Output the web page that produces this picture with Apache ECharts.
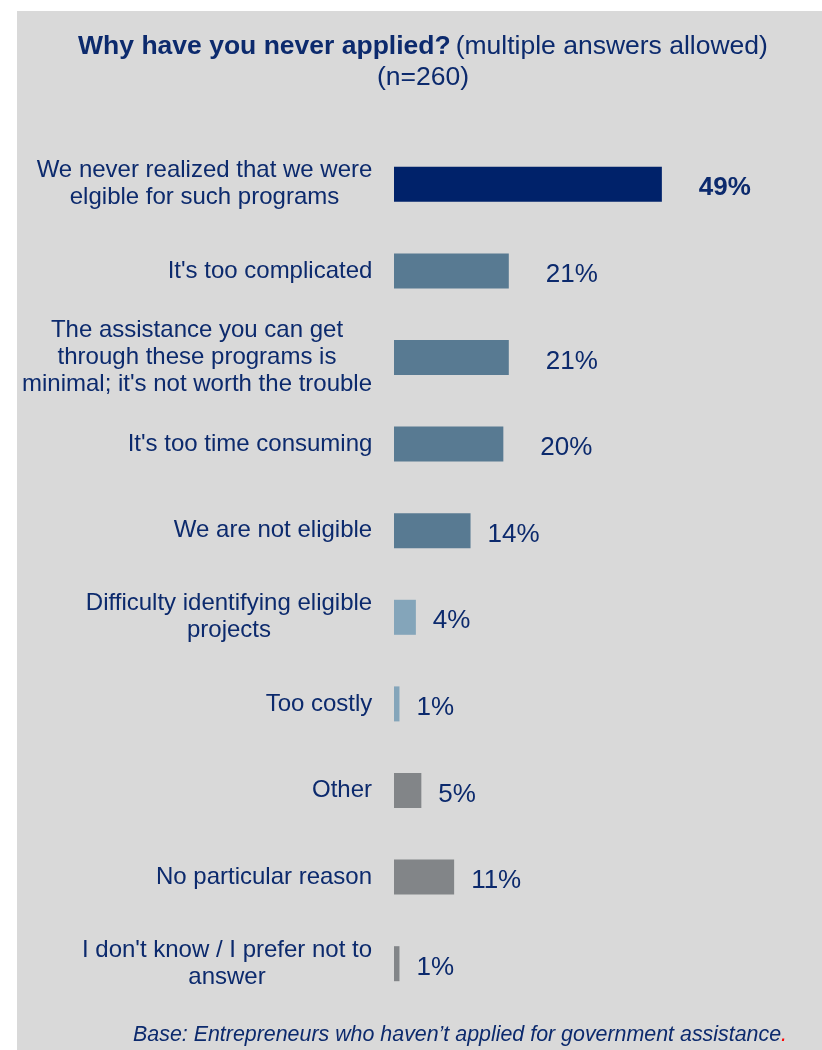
<!DOCTYPE html>
<html>
<head>
<meta charset="utf-8">
<script src="https://cdn.jsdelivr.net/npm/echarts@6/dist/echarts.min.js"></script>
<style>
  html, body { margin: 0; padding: 0; background: #ffffff; }
  #panel { position: absolute; left: 17px; top: 11px; width: 805px; height: 1039px; background: #d9d9d9; }
  #chart { position: absolute; left: 0; top: 0; width: 822px; height: 1050px; }
</style>
</head>
<body>
<div id="panel"></div>
<div id="chart"></div>
<script>
// Survey answers (multiple answers allowed, n=260)
const categories = [
  "We never realized that we were\nelgible for such programs",
  "It's too complicated",
  "The assistance you can get\nthrough these programs is\nminimal; it's not worth the trouble",
  "It's too time consuming",
  "We are not eligible",
  "Difficulty identifying eligible\nprojects",
  "Too costly",
  "Other",
  "No particular reason",
  "I don't know / I prefer not to\nanswer"
];
const shares = [49, 21, 21, 20, 14, 4, 1, 5, 11, 1];
const groups = ["top", "main", "main", "main", "main", "minor", "minor", "other", "other", "other"];

const NAVY = "#0c2a6d";
const FONT = "'Liberation Sans', Arial, Helvetica, sans-serif";
const groupColors = { top: "#00226a", main: "#587a92", minor: "#84a5ba", other: "#828588" };

// Each axis label gets a box as wide as its longest line so that the
// lines are centred among themselves while the block stays right-aligned.
const ctx = document.createElement("canvas").getContext("2d");
ctx.font = "24px " + FONT;
const rich = {};
categories.forEach((c, i) => {
  const w = Math.max(...c.split("\n").map(l => ctx.measureText(l).width));
  rich["c" + i] = { width: Math.ceil(w) + 1, align: "center", fontSize: 24, lineHeight: 27, color: NAVY, fontFamily: FONT };
});

const chart = echarts.init(document.getElementById("chart"), null, { renderer: "canvas" });

chart.setOption({
  backgroundColor: "transparent",
  animation: false,
  title: [
    {
      text: "{b|Why have you never applied?} {r|(multiple answers allowed)}\n{r|(n=260)}",
      left: 418,
      top: 26,
      textAlign: "center",
      textStyle: {
        fontWeight: "normal",
        rich: {
          b: { fontSize: 26.5, fontWeight: "bold", color: NAVY, fontFamily: FONT, lineHeight: 31 },
          r: { fontSize: 26.5, fontWeight: "normal", color: NAVY, fontFamily: FONT, lineHeight: 31 }
        }
      }
    },
    {
      text: "{i|Base: Entrepreneurs who haven\u2019t applied for government assistance}{d|.}",
      right: 30,
      top: 1020,
      textStyle: {
        fontWeight: "normal",
        rich: {
          i: { fontSize: 21.4, fontStyle: "italic", fontWeight: "normal", color: NAVY, fontFamily: FONT },
          d: { fontSize: 21.4, fontStyle: "italic", fontWeight: "normal", color: "#ff0000", fontFamily: FONT }
        }
      }
    }
  ],
  grid: { left: 394, width: 328, top: 141, bottom: 43, containLabel: false },
  xAxis: { type: "value", min: 0, max: 60, show: false },
  yAxis: {
    type: "category",
    inverse: true,
    data: categories,
    axisLine: { show: false },
    axisTick: { show: false },
    splitLine: { show: false },
    axisLabel: {
      margin: 21,
      align: "right",
      rich: rich,
      formatter: (value, idx) => value.split("\n").map(l => "{c" + idx + "|" + l + "}").join("\n")
    }
  },
  series: [{
    type: "bar",
    barWidth: 35,
    data: shares.map((v, i) => ({
      value: v,
      itemStyle: { color: groupColors[groups[i]] },
      label: {
        show: true,
        position: "right",
        distance: v >= 20 ? 37 : 17,
        offset: [0, 4],
        formatter: "{c}%",
        fontSize: 26,
        fontFamily: FONT,
        color: NAVY,
        fontWeight: i === 0 ? "bold" : "normal"
      }
    }))
  }]
});
</script>
</body>
</html>
